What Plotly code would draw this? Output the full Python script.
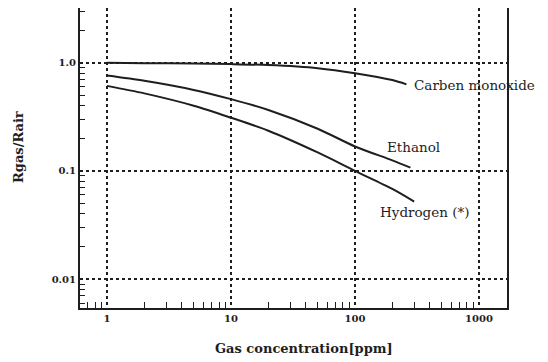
import math
import plotly.graph_objects as go

# Data
conc_co = [1, 2, 5, 10, 20, 50, 100, 200, 260]
ratio_co = [1.0, 0.99, 0.98, 0.97, 0.95, 0.89, 0.80, 0.69, 0.63]

conc_eth = [1, 2, 5, 10, 20, 50, 100, 200, 280]
ratio_eth = [0.76, 0.68, 0.56, 0.46, 0.365, 0.245, 0.168, 0.125, 0.107]

conc_h2 = [1, 2, 5, 10, 20, 50, 100, 200, 300]
ratio_h2 = [0.61, 0.52, 0.40, 0.31, 0.235, 0.148, 0.10, 0.068, 0.052]

x_ticks = [1, 10, 100, 1000]
x_tick_labels = ["1", "10", "100", "1000"]
y_ticks = [0.01, 0.1, 1.0]
y_tick_labels = ["0.01", "0.1", "1.0"]

labels = ["Carben monoxide", "Ethanol", "Hydrogen (*)"]
x_title = "Gas concentration[ppm]"
y_title = "Rgas/Rair"

FONT = "DejaVu Serif"
INK = "#1e1e1e"

fig = go.Figure()
for xs, ys in [(conc_co, ratio_co), (conc_eth, ratio_eth), (conc_h2, ratio_h2)]:
    fig.add_trace(go.Scatter(x=xs, y=ys, mode="lines", line=dict(color=INK, width=2, shape="spline", smoothing=0.8),
                             showlegend=False, hoverinfo="skip"))

minor_x = [m * 10 ** d for d in range(-1, 4) for m in range(2, 10)]
minor_y = [m * 10 ** d for d in range(-3, 1) for m in range(2, 10)]

fig.update_xaxes(type="log", range=[math.log10(0.605), math.log10(1683)],
                 tickvals=x_ticks, ticktext=["<b>%s</b>" % t for t in x_tick_labels], automargin=False,
                 showgrid=True, gridcolor=INK, griddash="dot", gridwidth=1.5,
                 showline=True, linecolor=INK, linewidth=2, mirror=True,
                 ticks="", zeroline=False,
                 minor=dict(tickvals=minor_x, ticks="inside", ticklen=6, tickcolor=INK, showgrid=False),
                 tickfont=dict(family=FONT, size=10, color=INK))
fig.update_yaxes(type="log", range=[math.log10(0.0054), math.log10(3.2)],
                 tickvals=y_ticks, ticktext=["<b>%s</b>" % t for t in y_tick_labels], automargin=False,
                 showgrid=True, gridcolor=INK, griddash="dot", gridwidth=1.5,
                 showline=True, linecolor=INK, linewidth=2, mirror=True,
                 ticks="", zeroline=False,
                 minor=dict(tickvals=minor_y, ticks="inside", ticklen=5, tickcolor=INK, showgrid=False),
                 tickfont=dict(family=FONT, size=10, color=INK))

ann_pos = [(2.46, -0.204), (2.24, -0.78), (2.185, -1.38)]
for text, (ax_, ay_) in zip(labels, ann_pos):
    fig.add_annotation(x=ax_, y=ay_, xref="x", yref="y", text=text, showarrow=False,
                       xanchor="left", yanchor="middle",
                       font=dict(family=FONT, size=13.5, color=INK))

fig.add_annotation(x=0.5, y=0, xref="paper", yref="paper", yanchor="middle", xanchor="center",
                   xshift=10, yshift=-40, text="<b>" + x_title + "</b>", showarrow=False,
                   font=dict(family=FONT, size=13, color=INK))
fig.add_annotation(x=0, y=0.5, xref="paper", yref="paper", xanchor="center", yanchor="middle",
                   xshift=-62, yshift=11, textangle=-90, text="<b>" + y_title + "</b>", showarrow=False,
                   font=dict(family=FONT, size=13, color=INK))

# the page adds an 8px body margin, so the figure is sized to fill the window from (8, 8)
fig.update_layout(width=540, height=354, margin=dict(l=72, r=41, t=0, b=54),
                  paper_bgcolor="white", plot_bgcolor="white")
fig.write_html("out.html")
